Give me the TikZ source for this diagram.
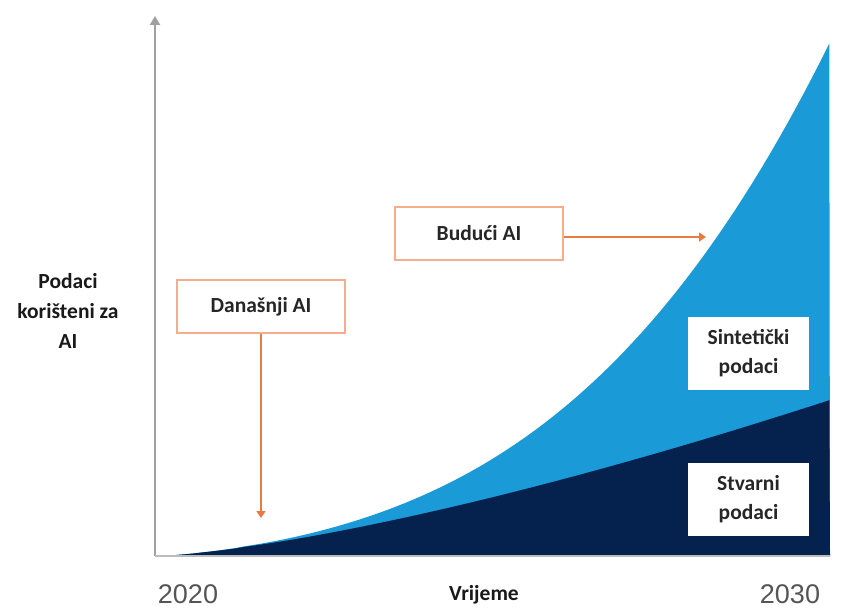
\documentclass[tikz,border=0pt]{standalone}
\usepackage{fontspec}
\setmainfont{Carlito}
\newfontfamily\yearfont{Liberation Sans}
\usetikzlibrary{arrows.meta}
\definecolor{skyblue}{HTML}{1A9AD6}
\definecolor{navyblue}{HTML}{05224F}
\definecolor{boxline}{HTML}{F4AE8E}
\definecolor{arrowline}{HTML}{EC7A3E}
\definecolor{axisgray}{HTML}{A0A0A0}
\definecolor{yeargray}{HTML}{555555}
\tikzset{
  aibox/.style={draw=boxline, line width=2.2pt, fill=white, minimum width=168pt, minimum height=53pt, inner sep=0pt, font=\fontsize{21.5}{26}\selectfont\bfseries, text=black!85},
  databox/.style={fill=white, minimum width=121pt, inner sep=0pt, align=center, font=\fontsize{21.5}{29}\selectfont\bfseries, text=black!85},
  pointer/.style={draw=arrowline, line width=1.6pt, -{Triangle[length=7pt,width=9pt]}},
  lbl/.style={font=\fontsize{21.5}{30}\selectfont\bfseries, text=black!90, align=center},
  year/.style={font=\yearfont\fontsize{27}{30}\selectfont, text=yeargray, inner sep=0pt}
}
\begin{document}
\begin{tikzpicture}[x=1pt,y=-1pt]
\useasboundingbox (0,0) rectangle (841,609);
% areas
\fill[skyblue] (158,556) -- plot[domain=0.002:1, samples=80] ({158+672*\x},{556-156*pow(\x,1.4)-358*pow(\x,3.2)}) -- (830,556) -- cycle;
\fill[navyblue] (158,556) -- plot[domain=0.002:1, samples=80] ({158+672*\x},{556-156*pow(\x,1.4)}) -- (830,556) -- cycle;
% axes
\coordinate (origin) at (155,556);
\coordinate (ytop) at (155,16);
\coordinate (xend) at (830,556);
\draw[axisgray, line width=2pt, -{Triangle[length=9pt,width=10pt]}] (origin) -- (ytop);
\draw[axisgray!70, line width=1.5pt] (origin) -- (xend);
% boxes
\node[aibox] (dan) at (261,306.5) {Današnji AI};
\node[aibox] (bud) at (479,233.5) {Budući AI};
\coordinate (danEnd) at (261,518);
\coordinate (budEnd) at (706,237);
\draw[pointer] (dan.south) -- (danEnd);
\draw[pointer] (bud.east |- budEnd) -- (budEnd);
\node[databox, minimum height=73pt] (sin) at (748.5,353.5) {Sintetički\\podaci};
\node[databox, minimum height=73pt] (stv) at (748.5,499.5) {Stvarni\\podaci};
% labels
\node[lbl] (ylab) at (68,311) {Podaci\\korišteni za\\AI};
\node[lbl, anchor=base] (xlab) at (484,600) {Vrijeme};
\node[year, anchor=base] (y0) at (188,603) {2020};
\node[year, anchor=base] (y1) at (790,603) {2030};
\end{tikzpicture}
\end{document}
